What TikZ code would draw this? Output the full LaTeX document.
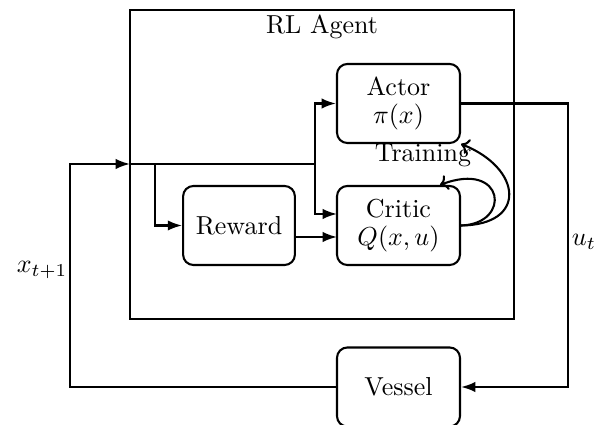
\documentclass[tikz,border=0pt]{standalone}
\usetikzlibrary{arrows.meta}
\begin{document}
\begin{tikzpicture}[x=0.3846pt,y=-0.3846pt,
  blk/.style={draw,line width=0.8pt,rounded corners=4pt,minimum width=47.3pt,minimum height=30.4pt,inner sep=0pt,align=center},
  arr/.style={line width=0.8pt,-{Latex[length=5.5pt,width=4pt]}},
  ln/.style={line width=0.8pt},
  tarr/.style={line width=0.8pt,-{To[length=3pt,width=6pt]}}]
\useasboundingbox (0,0) rectangle (603,425);
\node[draw,line width=0.8pt,minimum width=147.7pt,minimum height=118.8pt,inner sep=0pt] (agent) at (322,164.5) {};
\node (agentlbl) at (322,27) {RL Agent};
\node[blk] (actor) at (398.5,103.5) {Actor\\[-1pt]$\pi(x)$};
\node[blk] (critic) at (398.5,225.5) {Critic\\[-1pt]$Q(x,u)$};
\node[blk,minimum width=43pt] (reward) at (239,225.5) {Reward};
\node[blk] (vessel) at (398.5,387) {Vessel};
\node (train) at (423,155) {Training};
\node (ut) at (584,242) {$u_t$};
\node (xt) at (42,270) {$x_{t+1}$};
\coordinate (xin) at (70,164);
\coordinate (ain) at (130,164);
\coordinate (rsplit) at (155,164);
\coordinate (split) at (315,164);
\coordinate (cin1) at (337,214);
\coordinate (cin2) at (337,237);
\coordinate (rout) at (295,237);
\coordinate (uout) at (568,103.5);
\draw[arr] (vessel.west) -| (xin) -- (ain);
\draw[ln] (ain) -- (split);
\draw[arr] (split) |- (actor.west);
\draw[arr] (split) |- (cin1);
\draw[arr] (rsplit) |- (reward.west);
\draw[arr] (rout) -- (cin2);
\draw[arr] (actor.east) -- (uout) |- (vessel.east);
\draw[tarr] (critic.east) .. controls (528,225) and (522,168) .. (actor.south east);
\draw[tarr] (critic.east) .. controls (512,224) and (505,160) .. (440,185);
\end{tikzpicture}
\end{document}
